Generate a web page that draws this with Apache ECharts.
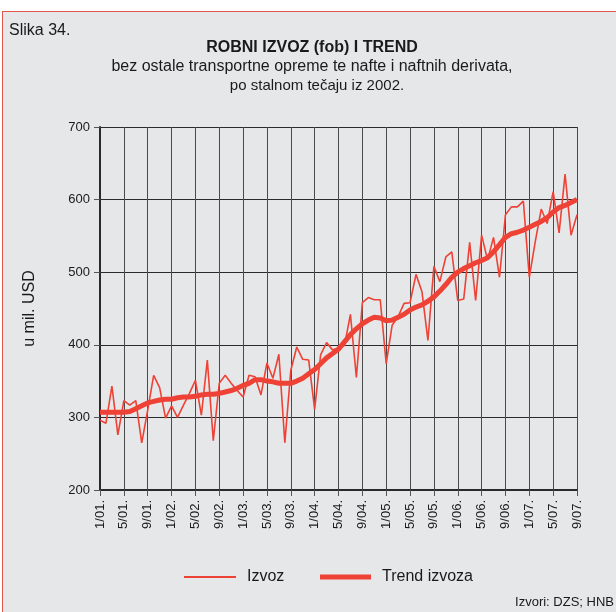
<!DOCTYPE html>
<html>
<head>
<meta charset="utf-8">
<script src="https://cdn.jsdelivr.net/npm/echarts@6/dist/echarts.min.js"></script>
<style>
  html, body { margin: 0; padding: 0; background: #fff; }
  #frame {
    position: absolute; left: 2px; top: 11px; width: 614px; height: 601px;
    background: #e6e7e9; border-top: 1.5px solid #e2574c; border-left: 1.5px solid #e2574c;
  }
  #chart { position: absolute; left: 0; top: 0; width: 616px; height: 612px; }
</style>
</head>
<body>
<div id="frame"></div>
<div id="chart"></div>
<script>
// mjesečni podaci, 1/01. - 9/07.
const startYear = 2001;
const monthCount = 81;

const izvoz = [
  296, 292, 343, 276, 323, 317, 323, 265, 310, 358,
  341, 299, 316, 300, 317, 333, 351, 303, 379, 268,
  347, 358, 347, 337, 328, 358, 356, 331, 375, 354,
  387, 265, 365, 397, 380, 379, 311, 386, 403, 393,
  396, 399, 442, 355, 458, 465, 462, 462, 374, 427,
  439, 457, 458, 497, 473, 406, 508, 487, 521, 528,
  461, 463, 541, 461, 551, 517, 548, 493, 579, 590,
  590, 598, 493, 542, 587, 567, 611, 554, 635, 551,
  579
];

const trend = [
  307, 307, 307, 307, 307, 308, 312, 316, 320, 322,
  324, 325, 325, 327, 328, 328, 329, 331, 332, 332,
  333, 335, 337, 340, 344, 347, 352, 352, 350, 349,
  347, 347, 347, 350, 354, 360, 366, 374, 382, 388,
  394, 404, 414, 422, 429, 434, 438, 437, 433, 434,
  438, 442, 448, 452, 455, 460, 466, 474, 483, 493,
  500, 505, 509, 513, 516, 520, 528, 538, 548, 553,
  555, 558, 562, 566, 570, 575, 583, 589, 592, 596,
  600
];

const yTicks = [200, 300, 400, 500, 600, 700];

// oznake mjeseci oblika "1/01."
const months = [];
for (let i = 0; i < monthCount; i++) {
  const m = (i % 12) + 1;
  const y = String((startYear + Math.floor(i / 12)) % 100).padStart(2, '0');
  months.push(m + '/' + y + '.');
}

const red = '#ee4236';
const ink = '#1a1a1a';
const font = 'Liberation Sans, Arial, sans-serif';
const legendText = {fontSize: 16, color: ink, fontFamily: font, padding: [0, 0, 0, 6]};

const chart = echarts.init(document.getElementById('chart'));

chart.setOption({
  animation: false,
  textStyle: {fontFamily: font},
  grid: {left: 100, right: 39, top: 127, bottom: 122},
  graphic: [
    {type: 'text', x: 9, y: 31, style: {text: 'Slika 34.', font: '16px ' + font, fill: ink, textVerticalAlign: 'middle'}},
    {type: 'text', x: 312, y: 48, style: {text: 'ROBNI IZVOZ (fob) I TREND', font: 'bold 16px ' + font, fill: ink, textAlign: 'center', textVerticalAlign: 'middle'}},
    {type: 'text', x: 312, y: 67, style: {text: 'bez ostale transportne opreme te nafte i naftnih derivata,', font: '16px ' + font, fill: ink, textAlign: 'center', textVerticalAlign: 'middle'}},
    {type: 'text', x: 317, y: 86, style: {text: 'po stalnom tečaju iz 2002.', font: '15px ' + font, fill: ink, textAlign: 'center', textVerticalAlign: 'middle'}},
    {type: 'text', right: 2, top: 596, style: {text: 'Izvori: DZS; HNB', font: '13px ' + font, fill: ink}}
  ],
  legend: [
    {
      left: 179, top: 564, icon: 'rect', itemWidth: 52, itemHeight: 2,
      textStyle: legendText, data: ['Izvoz']
    },
    {
      left: 315, top: 564, icon: 'rect', itemWidth: 51, itemHeight: 5,
      textStyle: legendText, data: ['Trend izvoza']
    }
  ],
  xAxis: {
    type: 'category',
    data: months,
    boundaryGap: false,
    axisLine: {lineStyle: {color: '#2a2a2a', width: 2}},
    axisTick: {show: true, interval: 3, length: 6, lineStyle: {color: '#555'}},
    axisLabel: {interval: 3, rotate: 90, margin: 10, fontSize: 13, color: ink, fontFamily: font},
    splitLine: {show: true, interval: 3, lineStyle: {color: '#4a4a4a', width: 1}}
  },
  yAxis: {
    type: 'value',
    min: yTicks[0], max: yTicks[yTicks.length - 1], interval: 100,
    name: 'u mil. USD', nameLocation: 'middle', nameRotate: 90, nameGap: 62,
    nameTextStyle: {fontSize: 16, color: ink, fontFamily: font},
    axisLine: {show: true, lineStyle: {color: '#2a2a2a', width: 2}},
    axisTick: {show: true, length: 6, lineStyle: {color: '#555'}},
    axisLabel: {fontSize: 13, color: ink, margin: 10, fontFamily: font},
    splitLine: {show: true, lineStyle: {color: '#2a2a2a', width: 1}}
  },
  series: [
    {
      name: 'Izvoz', type: 'line', data: izvoz,
      showSymbol: false, symbol: 'none',
      lineStyle: {color: red, width: 1.6},
      itemStyle: {color: red}, z: 3
    },
    {
      name: 'Trend izvoza', type: 'line', data: trend,
      showSymbol: false, symbol: 'none',
      lineStyle: {color: red, width: 5},
      itemStyle: {color: red}, z: 4
    }
  ]
});
</script>
</body>
</html>
